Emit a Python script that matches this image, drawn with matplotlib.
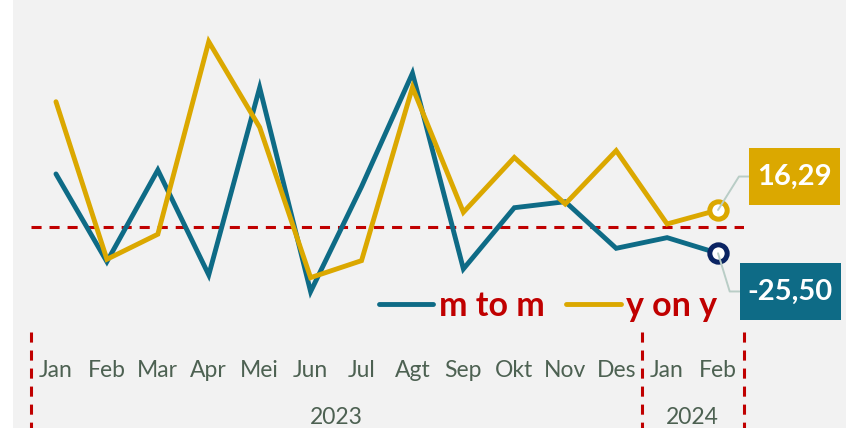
import matplotlib
matplotlib.use("Agg")
import matplotlib.pyplot as plt
import matplotlib.transforms as mtransforms
from matplotlib.patches import FancyBboxPatch

months = ["Jan", "Feb", "Mar", "Apr", "Mei", "Jun", "Jul", "Agt", "Sep", "Okt", "Nov", "Des", "Jan", "Feb"]
years = ["2023", "2024"]
year_spans = [(0, 11), (12, 13)]
mtom = [51.1, -33.6, 54.9, -46.4, 134.4, -62.5, 38.8, 148.3, -40.6, 18.5, 24.3, -20.7, -10.4, -25.50]
yony = [120.8, -31.3, -7.1, 178.8, 96.1, -49.0, -32.6, 134.7, 14.1, 67.0, 22.1, 73.6, 2.8, 16.29]
series_names = ["m to m", "y on y"]

C_MTOM = "#0e6b86"
C_YONY = "#dba800"
C_NAVY = "#0b2463"
C_RED = "#c00000"
C_TXT = "#4d6152"
C_BG = "#f2f2f2"
C_LEAD = "#b9cdc6"

plt.rcParams["font.family"] = ["Lato", "DejaVu Sans"]

W, H = 846, 428
fig = plt.figure(figsize=(W / 100, H / 100), dpi=100)
fig.patch.set_facecolor("white")
panel = FancyBboxPatch((13 / W, -0.2), 1.2, 1.4, boxstyle="round,pad=0,rounding_size=0.03",
                       transform=fig.transFigure, facecolor=C_BG, edgecolor="none", zorder=-10)
fig.patches.append(panel)

ax_left, ax_right = 30.5, 743.5
ax_top, ax_bot = 20, 320
ax = fig.add_axes([ax_left / W, 1 - ax_bot / H, (ax_right - ax_left) / W, (ax_bot - ax_top) / H])
ax.set_facecolor("none")
x = list(range(len(months)))
ax.set_xlim(-0.5, len(months) - 0.5)
ax.set_ylim(-89.9, 199.7)
for s in ax.spines.values():
    s.set_visible(False)
ax.set_yticks([])
ax.set_xticks(x, months)
ax.tick_params(axis="x", length=0, pad=28.5, labelsize=16.5, labelcolor=C_TXT)

DASH = (0, (3.3, 2.6))
ax.axhline(0, color=C_RED, lw=2.2, ls=DASH, zorder=1)
l1, = ax.plot(x, mtom, color=C_MTOM, lw=3.5, solid_capstyle="round", solid_joinstyle="miter", zorder=3, label=series_names[0])
l2, = ax.plot(x, yony, color=C_YONY, lw=3.5, solid_capstyle="round", solid_joinstyle="miter", zorder=3, label=series_names[1])
ax.plot([x[-1]], [yony[-1]], "o", ms=12.5, mfc="white", mec=C_YONY, mew=3.6, zorder=5)
ax.plot([x[-1]], [mtom[-1]], "o", ms=12.5, mfc="white", mec=C_NAVY, mew=3.6, zorder=5)

trans = mtransforms.blended_transform_factory(ax.transData, ax.transAxes)
bounds = [year_spans[0][0] - 0.5, year_spans[0][1] + 0.5, year_spans[1][1] + 0.5]
for b in bounds:
    ax.plot([b, b], [-0.04, -0.37], transform=trans, color=C_RED, lw=2.2,
            ls=DASH, clip_on=False, zorder=2)
for yr, (a, b) in zip(years, year_spans):
    ax.text((a + b) / 2, -0.325, yr, transform=trans, ha="center", va="center",
            fontsize=16.5, color=C_TXT)

def fmt(v):
    return f"{v:.2f}".replace(".", ",")

ax.annotate(fmt(yony[-1]), xy=(x[-1], yony[-1]), xytext=(55.2, 24.1), textcoords="offset points",
            ha="center", va="center", fontsize=21, fontweight="bold", color="white",
            bbox=dict(boxstyle="square,pad=0.28", fc=C_YONY, ec="none", mutation_aspect=1.9),
            arrowprops=dict(arrowstyle="-", color=C_LEAD, lw=1.4, shrinkA=0, shrinkB=0,
                            relpos=(0, 0.5), connectionstyle="angle,angleA=0,angleB=58"),
            zorder=6, annotation_clip=False)
ax.annotate(fmt(mtom[-1]), xy=(x[-1], mtom[-1]), xytext=(52.0, -27.5), textcoords="offset points",
            ha="center", va="center", fontsize=21, fontweight="bold", color="white",
            bbox=dict(boxstyle="square,pad=0.28", fc=C_MTOM, ec="none", mutation_aspect=1.9),
            arrowprops=dict(arrowstyle="-", color=C_LEAD, lw=1.4, shrinkA=0, shrinkB=0,
                            relpos=(0, 0.5), connectionstyle="angle,angleA=0,angleB=-73"),
            zorder=6, annotation_clip=False)

leg = fig.legend(handles=[l1, l2], loc="center", bbox_to_anchor=(548 / W, 1 - 306 / H), ncol=2,
                 frameon=False, handlelength=1.6, handletextpad=0.15, columnspacing=0.65,
                 prop=dict(family=["Lato", "DejaVu Sans"], weight="bold", size=24.5))
for t in leg.get_texts():
    t.set_color(C_RED)

fig.savefig("out.png", dpi=100, facecolor=fig.get_facecolor())
